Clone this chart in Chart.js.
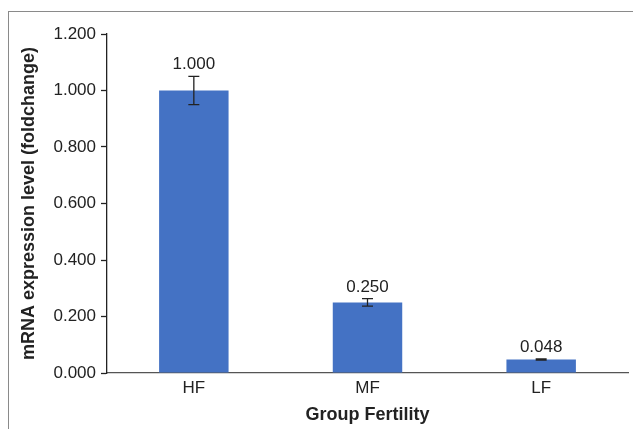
<!DOCTYPE html>
<html>
<head>
<meta charset="utf-8">
<script src="https://cdn.jsdelivr.net/npm/chart.js@4/dist/chart.umd.min.js"></script>
<style>
  html, body { margin: 0; padding: 0; background: #fff; }
  #wrap { position: relative; width: 633px; height: 429px; overflow: hidden; }
  #frame { position: absolute; left: 8px; top: 11px; width: 700px; height: 500px; border: 1px solid #8a8a8a; box-sizing: border-box; }
  canvas { position: absolute; left: 0; top: 0; }
</style>
</head>
<body>
<div id="wrap">
  <div id="frame"></div>
  <canvas id="chart" width="633" height="429"></canvas>
</div>
<script>
// Datos
const groups = ['HF', 'MF', 'LF'];
const expression = [1.000, 0.250, 0.048];
const errors = [0.050, 0.013, 0.002];
const yTicks = [0, 0.2, 0.4, 0.6, 0.8, 1.0, 1.2];

const FONT = "'Liberation Sans', Arial, sans-serif";

// Barras de error + etiquetas de valor
const errorBarsPlugin = {
    id: 'errorBars',
    afterDatasetsDraw(chart) {
        const ctx = chart.ctx;
        const meta = chart.getDatasetMeta(0);
        const y = chart.scales.y;
        ctx.save();
        meta.data.forEach((bar, i) => {
            const v = expression[i], e = errors[i];
            const top = y.getPixelForValue(v + e);
            const bot = y.getPixelForValue(v - e);
            ctx.strokeStyle = '#222';
            ctx.lineWidth = 1.3;
            ctx.beginPath();
            ctx.moveTo(bar.x, top); ctx.lineTo(bar.x, bot);
            ctx.moveTo(bar.x - 5.5, top); ctx.lineTo(bar.x + 5.5, top);
            ctx.moveTo(bar.x - 5.5, bot); ctx.lineTo(bar.x + 5.5, bot);
            ctx.stroke();
            ctx.fillStyle = '#222';
            ctx.font = '17px ' + FONT;
            ctx.textAlign = 'center';
            ctx.textBaseline = 'alphabetic';
            ctx.fillText(v.toFixed(3), bar.x, top - 7);
        });
        ctx.restore();
    }
};

new Chart(document.getElementById('chart'), {
    type: 'bar',
    data: {
        labels: groups,
        datasets: [{
            data: expression,
            backgroundColor: '#4472C4',
            borderWidth: 0,
            barPercentage: 0.4,
            categoryPercentage: 1.0
        }]
    },
    options: {
        responsive: false,
        animation: false,
        devicePixelRatio: 1,
        layout: { padding: { top: 34, right: 5, left: 0, bottom: 0 } },
        plugins: { legend: { display: false }, tooltip: { enabled: false } },
        scales: {
            x: {
                grid: { display: false, drawTicks: false },
                border: { color: '#555', width: 1.3 },
                ticks: { color: '#222', font: { family: FONT, size: 17 }, padding: 5 },
                title: {
                    display: true, text: 'Group Fertility', color: '#222',
                    font: { family: FONT, size: 18, weight: 'bold' },
                    padding: { top: 1, bottom: 3 }
                }
            },
            y: {
                min: 0, max: 1.2,
                afterBuildTicks: axis => { axis.ticks = yTicks.map(v => ({ value: v })); },
                grid: { drawOnChartArea: false, tickLength: 6, color: '#222', tickWidth: 1.3 },
                border: { color: '#222', width: 1.3 },
                ticks: {
                    color: '#222', padding: 5,
                    font: { family: FONT, size: 17 },
                    callback: val => Number(val).toFixed(3)
                },
                title: {
                    display: true, text: 'mRNA expression level (foldchange)', color: '#222',
                    font: { family: FONT, size: 18, weight: 'bold' },
                    padding: { top: 18, bottom: 6 }
                },
                afterFit: axis => { axis.width = 107; }
            }
        }
    },
    plugins: [errorBarsPlugin]
});
</script>
</body>
</html>
